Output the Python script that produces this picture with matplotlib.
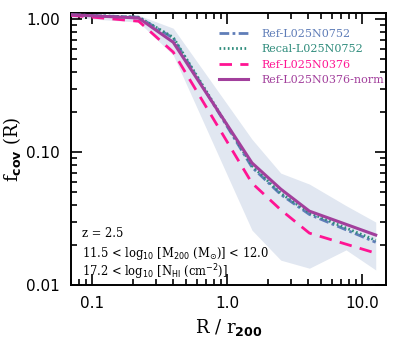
import matplotlib
matplotlib.use("Agg")
import matplotlib.pyplot as plt
from matplotlib.ticker import FixedLocator, NullFormatter

# ====================================================
# DATA
# ====================================================

r_lines = [0.07, 0.222, 0.40, 1.53, 2.5, 4.07, 12.6]

ref_752 = [1.08, 1.035, 0.72, 0.077, 0.048, 0.034, 0.021]
recal_752 = [1.08, 1.035, 0.73, 0.079, 0.049, 0.035, 0.0217]
ref_376 = [1.07, 0.965, 0.565, 0.0585, 0.0368, 0.0246, 0.0174]
ref_376_norm = [1.08, 1.02, 0.67, 0.083, 0.0527, 0.036, 0.0238]

r_band = [0.07, 0.222, 0.40, 1.53, 2.5, 4.07, 7.6, 12.6]
band_hi = [1.09, 1.07, 0.855, 0.125, 0.0695, 0.0575, 0.0396, 0.0298]
band_lo = [1.03, 0.95, 0.537, 0.0259, 0.0154, 0.0134, 0.0184, 0.0130]

labels = [
    "Ref-L025N0752",
    "Recal-L025N0752",
    "Ref-L025N0376",
    "Ref-L025N0376-norm",
]

colors = ["#5f7db8", "#2f8c7c", "#ff1493", "#a23f9c"]

# ====================================================
# FIGURE
# ====================================================

fig = plt.figure(figsize=(4.15, 3.46), dpi=100)
ax = fig.add_axes([0.171, 0.176, 0.759, 0.786])

ax.fill_between(
    r_band,
    band_lo,
    band_hi,
    color="#e1e7f1",
    linewidth=0,
    zorder=1
)

ax.plot(r_lines, ref_752, color=colors[0], lw=2.0,
        linestyle=(0, (3.5, 1.2, 1, 1.2)), label=labels[0], zorder=3)
ax.plot(r_lines, recal_752, color=colors[1], lw=2.0,
        linestyle=(0, (0.6, 0.9)), label=labels[1], zorder=3)
ax.plot(r_lines, ref_376, color=colors[2], lw=2.0,
        linestyle=(0, (4.5, 3)), label=labels[2], zorder=3)
ax.plot(r_lines, ref_376_norm, color=colors[3], lw=2.2,
        linestyle="-", label=labels[3], zorder=4)

# ====================================================
# AXES
# ====================================================

ax.set_xscale("log")
ax.set_yscale("log")
ax.set_xlim(0.07, 15.0)
ax.set_ylim(0.01, 1.11)

ax.xaxis.set_major_locator(FixedLocator([0.1, 1.0, 10.0]))
ax.set_xticklabels(["0.1", "1.0", "10.0"])
ax.yaxis.set_major_locator(FixedLocator([0.01, 0.1, 1.0]))
ax.set_yticklabels(["0.01", "0.10", "1.00"])
ax.xaxis.set_minor_formatter(NullFormatter())
ax.yaxis.set_minor_formatter(NullFormatter())

ax.tick_params(which="both", direction="in", top=True, right=True,
               width=1.2, labelsize=11, pad=8)
ax.tick_params(which="major", length=8)
ax.tick_params(which="minor", length=4)

for sp in ax.spines.values():
    sp.set_linewidth(1.4)

ax.set_xlabel(r"R / r$_{\mathbf{200}}$", fontsize=13, family="DejaVu Serif")
ax.set_ylabel(r"f$_{\mathbf{cov}}$ (R)", fontsize=13, family="DejaVu Serif",
              labelpad=2)

# ====================================================
# LEGEND
# ====================================================

leg = ax.legend(
    loc="upper right",
    bbox_to_anchor=(1.025, 0.98),
    frameon=False,
    handlelength=2.6,
    handletextpad=1.2,
    labelspacing=0.5,
    borderaxespad=0.5,
    prop={"family": "DejaVu Serif", "size": 8}
)

for txt, c in zip(leg.get_texts(), colors):
    txt.set_color(c)

# ====================================================
# ANNOTATIONS
# ====================================================

ann = dict(transform=ax.transAxes, fontsize=8.3, family="DejaVu Serif",
           ha="left", va="center")

ax.text(0.035, 0.19, "z = 2.5", **ann)
ax.text(0.035, 0.118,
        r"11.5 < log$_{10}$ [M$_{200}$ (M$_{\odot}$)] < 12.0", **ann)
ax.text(0.035, 0.048,
        r"17.2 < log$_{10}$ [N$_{\rm HI}$ (cm$^{-2}$)]", **ann)

fig.savefig("out.png", dpi=100)
plt.close(fig)
